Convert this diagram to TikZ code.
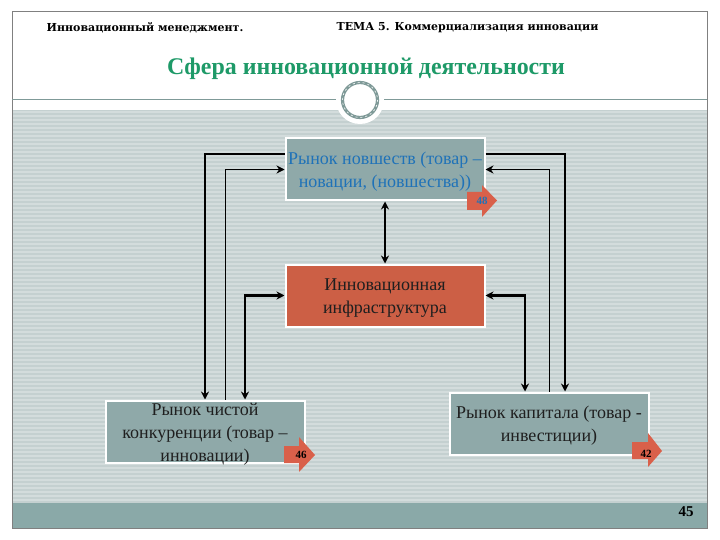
\documentclass[tikz,border=0pt]{standalone}
\usepackage{fontspec}
\usetikzlibrary{arrows.meta}
\setmainfont{Liberation Serif}
\newfontfamily\headfont{DejaVu Serif}
\begin{document}
\begin{tikzpicture}[x=1pt,y=-1pt,
  box/.style={draw=white,line width=2pt,minimum width=199pt,minimum height=62pt,inner sep=0pt},
  boxtext/.style={inner sep=0pt,align=center,font=\fontsize{18}{23}\selectfont,text=black!88},
  thick line/.style={line width=2.2pt,draw=black},
  thin line/.style={line width=0.9pt,draw=black},
  onehead/.style={-{Stealth[length=8pt,width=8pt]}},
  twoheads/.style={{Stealth[length=8pt,width=8pt]}-{Stealth[length=8pt,width=8pt]}},
  badge/.style={fill=badgered,draw=none},
  badgetext/.style={font=\bfseries\fontsize{11}{11}\selectfont,inner sep=0pt},
  headtext/.style={font=\headfont\bfseries\fontsize{11}{14}\selectfont,inner sep=0pt,text=black}]
\definecolor{boxgray}{HTML}{8FA9A9}
\definecolor{badgered}{HTML}{D9604A}
\definecolor{midred}{HTML}{CC5F45}
\definecolor{panel}{HTML}{C4D0D0}
\definecolor{stripe}{HTML}{D3DCDC}
\definecolor{foot}{HTML}{8AA9A8}
\definecolor{titlegreen}{HTML}{1E9A68}
\definecolor{ringgray}{HTML}{7F9A98}
\definecolor{bluetext}{HTML}{1F72B8}
\useasboundingbox (0,0) rectangle (720,540);
\fill[white] (0,0) rectangle (720,540);
% panel
\fill[panel] (12,110) rectangle (707,503);
\foreach \yy in {112,116,...,500} {\draw[stripe,line width=1.2pt] (12,\yy) -- (707,\yy);}
\fill[foot] (12,503) rectangle (707,528);
\draw[gray,line width=1pt] (12,12) rectangle (707,528);
\draw[ringgray,line width=1pt] (12,100) -- (707,100);
% ring
\fill[white] (360,100) circle (24);
\draw[ringgray,line width=3.2pt] (360,100) circle (17.5);
\draw[white,line width=.6pt,dash pattern=on 2pt off 3pt] (360,100) circle (17.5);
% texts
\node[headtext] (h1) at (145,28) {Инновационный менеджмент.};
\node[headtext] (h2) at (467.5,28) {ТЕМА 5. Коммерциализация инновации};
\node[font=\bfseries\fontsize{23.9}{28}\selectfont,inner sep=0pt,text=titlegreen] (ttl) at (366,69) {Сфера инновационной деятельности};
% boxes
\node[box,fill=boxgray] (top) at (385,169.5) {};
\node[boxtext,text=bluetext] (toptext) at (385,172) {Рынок новшеств (товар --\\новации, (новшества))};
\node[box,fill=midred] (mid) at (385,295.5) {};
\node[boxtext] (midtext) at (385,298) {Инновационная\\инфраструктура};
\node[box,fill=boxgray] (bl) at (205,431.5) {};
\node[boxtext] (bltext) at (205,434.5) {Рынок чистой\\конкуренции (товар --\\инновации)};
\node[box,fill=boxgray] (br) at (549,423.5) {};
\node[boxtext] (brtext) at (549,426) {Рынок капитала (товар -\\инвестиции)};
% connectors
\draw[thick line,onehead] ([yshift=15.5pt]top.west) -| (bl.north);
\draw[thin line,onehead] ([xshift=20pt]bl.north) |- (top.west);
\draw[thick line,twoheads] (mid.west) -| ([xshift=40pt]bl.north);
\draw[thick line,onehead] ([yshift=15.5pt]top.east) -| ([xshift=16pt]br.north);
\draw[thin line,onehead] (br.north) |- (top.east);
\draw[thick line,twoheads] (mid.east) -| ([xshift=-24pt]br.north);
\draw[thick line,twoheads] (top.south) -- (mid.north);
% badges
\fill[badge] (467,192) -- (482,192) -- (482,185) -- (497,200.5) -- (482,217) -- (482,210) -- (467,210) -- cycle;
\node[badgetext,text=bluetext] (b1) at (482,201) {48};
\fill[badge] (284,446) -- (299,446) -- (299,437) -- (315,455) -- (299,472) -- (299,463) -- (284,463) -- cycle;
\node[badgetext,text=black] (b2) at (301,455) {46};
\fill[badge] (632,442) -- (648,442) -- (648,433) -- (662,451) -- (648,467) -- (648,459) -- (632,459) -- cycle;
\node[badgetext,text=black] (b3) at (646,454) {42};
\node[font=\bfseries\fontsize{15}{15}\selectfont,inner sep=0pt,text=black] (pg) at (686,512) {45};
\end{tikzpicture}
\end{document}
